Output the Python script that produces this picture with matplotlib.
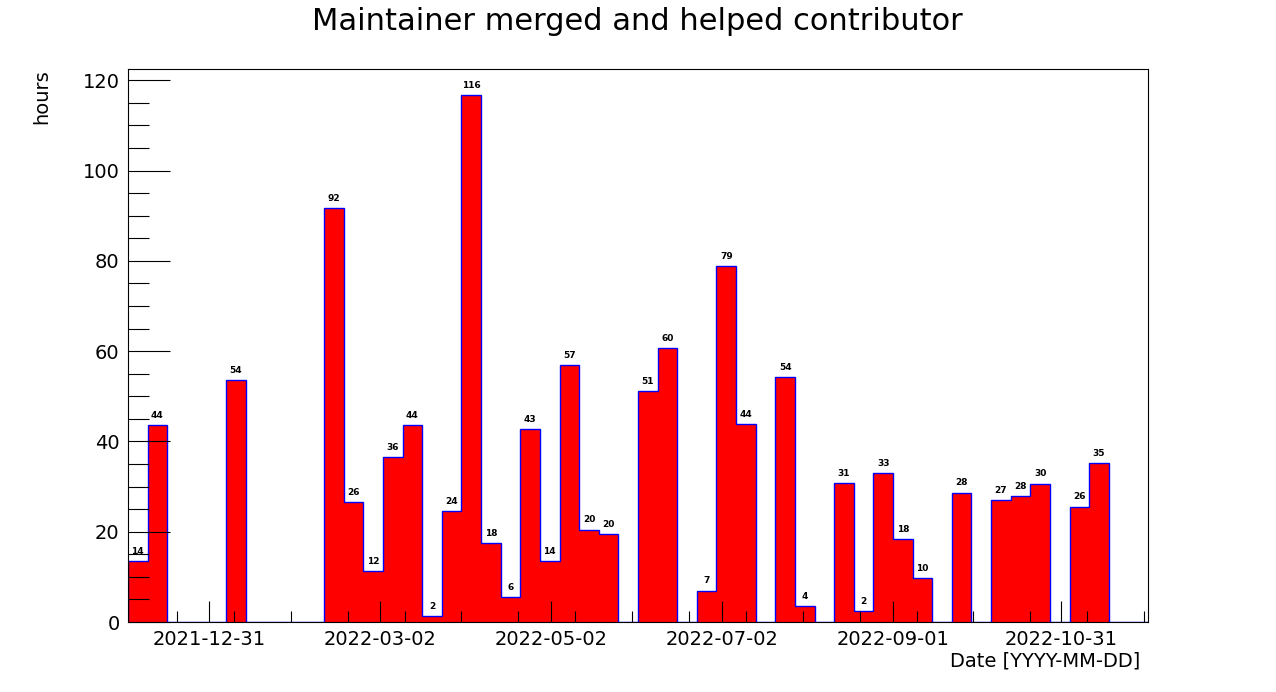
import datetime as dt
import numpy as np
import matplotlib
matplotlib.use("Agg")
import matplotlib.pyplot as plt
import matplotlib.dates as mdates
from matplotlib.ticker import MultipleLocator

start = dt.date(2021, 12, 2)
n_bins = 52
bin_index = [0, 1, 5, 10, 11, 12, 13, 14, 15, 16, 17, 18, 19, 20, 21, 22, 23, 24,
             26, 27, 29, 30, 31, 33, 34, 36, 37, 38, 39, 40, 42, 44, 45, 46, 48, 49]
heights = [13.5, 43.6, 53.6, 91.7, 26.6, 11.3, 36.5, 43.6, 1.3, 24.6, 116.7, 17.5,
           5.5, 42.7, 13.5, 56.9, 20.4, 19.5, 51.1, 60.7, 6.9, 78.8, 43.8, 54.2, 3.5,
           30.8, 2.4, 33.0, 18.4, 9.7, 28.6, 27.0, 27.9, 30.6, 25.5, 35.2]
labels = [14, 44, 54, 92, 26, 12, 36, 44, 2, 24, 116, 18, 6, 43, 14, 57, 20, 20,
          51, 60, 7, 79, 44, 54, 4, 31, 2, 33, 18, 10, 28, 27, 28, 30, 26, 35]
tick_dates = ["2021-12-31", "2022-03-02", "2022-05-02", "2022-07-02", "2022-09-01", "2022-10-31"]

edges = [mdates.date2num(start + dt.timedelta(days=7 * i)) for i in range(n_bins + 1)]
counts = np.zeros(n_bins)
for i, h in zip(bin_index, heights):
    counts[i] = h

fig = plt.figure(figsize=(12.76, 6.92), dpi=100)
ax = fig.add_axes([128 / 1276, 1 - 622 / 692, 1020 / 1276, 553 / 692])

ax.stairs(counts, edges, fill=True, color="red")
ax.stairs(counts, edges, color="blue", linewidth=1)
for i, h, lab in zip(bin_index, heights, labels):
    x = 0.5 * (edges[i] + edges[i + 1])
    ax.text(x, h + 1.2, str(lab), ha="center", va="bottom", fontsize=6.5, fontweight="bold")

ax.set_xlim(edges[0], edges[-1])
ax.set_ylim(0, 122.5)
ticks = [mdates.date2num(dt.date.fromisoformat(d)) for d in tick_dates]
ax.set_xticks(ticks)
ax.set_xticklabels(tick_dates, fontsize=14)
ax.xaxis.set_minor_locator(MultipleLocator(20.3))
ax.yaxis.set_major_locator(MultipleLocator(20))
ax.yaxis.set_minor_locator(MultipleLocator(5))
ax.tick_params(axis="y", labelsize=14)
ax.tick_params(which="major", direction="in", length=30, width=0.8)
ax.tick_params(axis="x", which="major", length=15)
ax.tick_params(which="minor", direction="in", length=15, width=0.8)
ax.tick_params(axis="x", which="minor", length=8)
ax.tick_params(axis="both", pad=6)

ax.set_ylabel("hours", fontsize=14)
ax.yaxis.set_label_coords(-0.075, 0.95)
fig.text(1140 / 1276, 1 - 661 / 692, "Date [YYYY-MM-DD]", ha="right", va="center", fontsize=14)
fig.text(637 / 1276, 1 - 22 / 692, "Maintainer merged and helped contributor", ha="center",
         va="center", fontsize=22)

fig.savefig("out.png", dpi=100)
